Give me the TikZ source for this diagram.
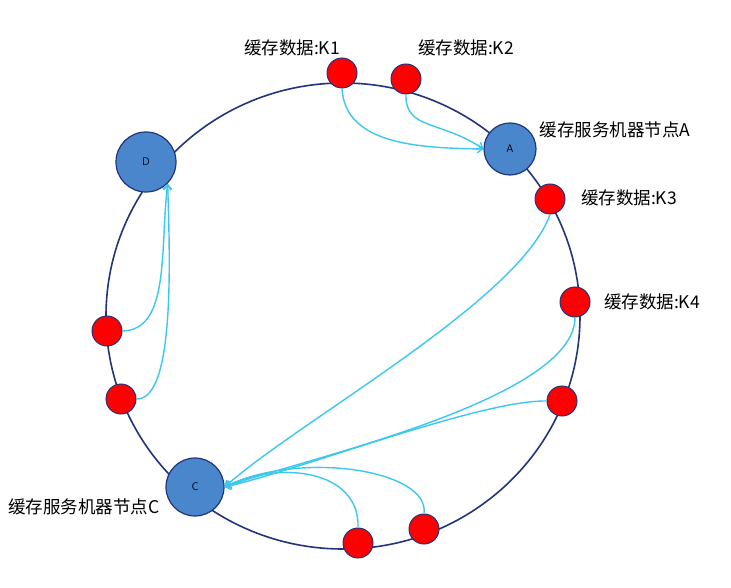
\documentclass[tikz,border=0pt]{standalone}
\usepackage{fontspec}
\newfontfamily\cjk{Noto Sans CJK SC}
\usetikzlibrary{arrows.meta}
\definecolor{srv}{HTML}{4A86CC}
\definecolor{ring}{HTML}{23357A}
\definecolor{lnk}{HTML}{3CC8EE}
\begin{document}
\begin{tikzpicture}[x=1pt,y=-1pt,
  server/.style={circle,draw=ring,fill=srv,line width=1.2pt,inner sep=0pt,minimum size=#1,font=\sffamily\fontsize{11}{12}\selectfont},
  data/.style={circle,draw=ring,fill=red,line width=1pt,minimum size=30pt,inner sep=0pt},
  lab/.style={font=\cjk\fontsize{17.5}{20}\selectfont,inner sep=0pt},
  link/.style={draw=lnk,line width=1.4pt,-{Straight Barb[length=5pt,width=8pt]}}]
\useasboundingbox (0,0) rectangle (731,588);
\fill[white] (0,0) rectangle (731,588);
\draw[ring,line width=1.6pt] (343,316) ellipse (237 and 233);
\node[server=60pt] (D) at (146,162) {D};
\node[server=52pt] (A) at (510,149) {A};
\node[server=58pt] (C) at (195,487) {C};
\node[data] (k1) at (342,73) {};
\node[data] (k2) at (406,79) {};
\node[data] (k3) at (550,199) {};
\node[data] (k4) at (575,302) {};
\node[data] (k5) at (562,401) {};
\node[data] (k6) at (424,529) {};
\node[data] (k7) at (358,543) {};
\node[data] (k8) at (107,331) {};
\node[data] (k9) at (121,399) {};
\node[lab] at (292,48) {缓存数据:K1};
\node[lab] at (466,48) {缓存数据:K2};
\node[lab] at (615,130) {缓存服务机器节点A};
\node[lab] at (629,198) {缓存数据:K3};
\node[lab] at (652,302) {缓存数据:K4};
\node[lab] at (84,507) {缓存服务机器节点C};
\draw[link] (k1.south) .. controls (345,145) and (420,148) .. (A.west);
\draw[link] (k2.south) .. controls (405,130) and (440,120) .. (A.west);
\draw[link] (k3.south) .. controls (520,300) and (300,420) .. (C.east);
\draw[link] (k4.south) .. controls (575,400) and (300,460) .. (C.east);
\draw[link] (k5.west) .. controls (480,400) and (300,470) .. (C.east);
\draw[link] (k6.north) .. controls (430,470) and (300,450) .. (C.east);
\draw[link] (k7.north) .. controls (360,470) and (280,460) .. (C.east);
\draw[link] (k8.east) .. controls (170,330) and (160,250) .. (D.south east);
\draw[link] (k9.east) .. controls (175,400) and (170,260) .. (D.south east);
\end{tikzpicture}
\end{document}
